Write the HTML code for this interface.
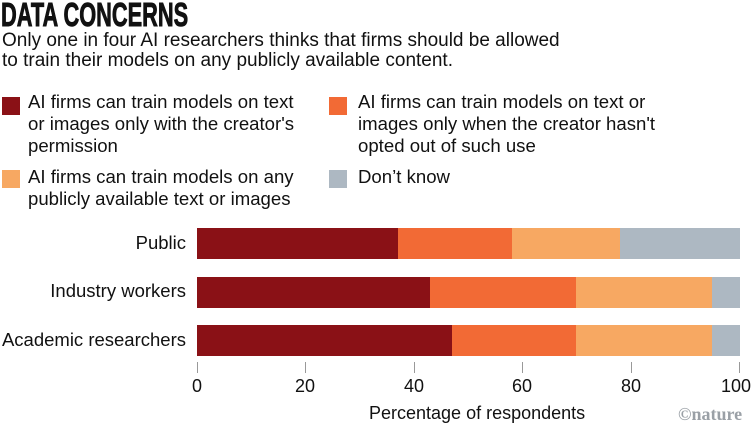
<!DOCTYPE html>
<html><head><meta charset="utf-8"><style>
body{margin:0;width:752px;height:434px;background:#fff;font-family:"Liberation Sans",sans-serif;color:#111;position:relative;overflow:hidden}
.a{position:absolute;white-space:nowrap}
.t{left:1px;top:-4px;font-size:33px;font-weight:bold;transform:scaleX(0.66);transform-origin:0 0;-webkit-text-stroke:0.9px #111}
.s{left:2px;font-size:19px;line-height:20px}
.lg{font-size:18.6px;line-height:22px}
.sq{position:absolute;width:18px;height:18px}
.bar{position:absolute;height:31px}
.yl{font-size:18.5px;right:566px;text-align:right}
.tk{position:absolute;width:1px;height:11px;background:#999;top:362px}
.tl{font-size:18px;top:376px;transform:translateX(-50%)}
</style></head><body>
<div class="a t">DATA CONCERNS</div>
<div class="a s" style="top:31px">Only one in four AI researchers thinks that firms should be allowed<br>to train their models on any publicly available content.</div>
<div class="sq" style="left:2px;top:97px;background:#8a1116"></div>
<div class="a lg" style="left:28px;top:91px">AI firms can train models on text<br>or images only with the creator's<br>permission</div>
<div class="sq" style="left:329px;top:97px;background:#f26a35"></div>
<div class="a lg" style="left:358px;top:91px">AI firms can train models on text or<br>images only when the creator hasn't<br>opted out of such use</div>
<div class="sq" style="left:2px;top:170px;background:#f7a862"></div>
<div class="a lg" style="left:28px;top:166px">AI firms can train models on any<br>publicly available text or images</div>
<div class="sq" style="left:329px;top:170px;background:#adb8c2"></div>
<div class="a lg" style="left:358px;top:166px">Don’t know</div>

<div class="a yl" style="top:232px">Public</div>
<div class="a yl" style="top:280px">Industry workers</div>
<div class="a yl" style="top:329px">Academic researchers</div>

<div class="bar" style="top:228px;left:197px;width:201px;background:#8a1116"></div>
<div class="bar" style="top:228px;left:398px;width:114px;background:#f26a35"></div>
<div class="bar" style="top:228px;left:512px;width:108px;background:#f7a862"></div>
<div class="bar" style="top:228px;left:620px;width:120px;background:#adb8c2"></div>

<div class="bar" style="top:277px;left:197px;width:233px;background:#8a1116"></div>
<div class="bar" style="top:277px;left:430px;width:146px;background:#f26a35"></div>
<div class="bar" style="top:277px;left:576px;width:136px;background:#f7a862"></div>
<div class="bar" style="top:277px;left:712px;width:28px;background:#adb8c2"></div>

<div class="bar" style="top:325px;left:197px;width:255px;background:#8a1116"></div>
<div class="bar" style="top:325px;left:452px;width:124px;background:#f26a35"></div>
<div class="bar" style="top:325px;left:576px;width:136px;background:#f7a862"></div>
<div class="bar" style="top:325px;left:712px;width:28px;background:#adb8c2"></div>

<div class="tk" style="left:197px"></div><div class="tk" style="left:305px"></div><div class="tk" style="left:414px"></div><div class="tk" style="left:522px"></div><div class="tk" style="left:631px"></div><div class="tk" style="left:739px"></div>
<div class="a tl" style="left:197px">0</div><div class="a tl" style="left:305px">20</div><div class="a tl" style="left:414px">40</div><div class="a tl" style="left:522px">60</div><div class="a tl" style="left:631px">80</div><div class="a tl" style="left:736px">100</div>
<div class="a" style="left:369px;top:403px;font-size:18px">Percentage of respondents</div>
<div class="a" style="left:678px;top:404px;font-size:18px;font-weight:bold;color:#9aa0a6;font-family:'Liberation Serif',serif">©nature</div>
</body></html>
